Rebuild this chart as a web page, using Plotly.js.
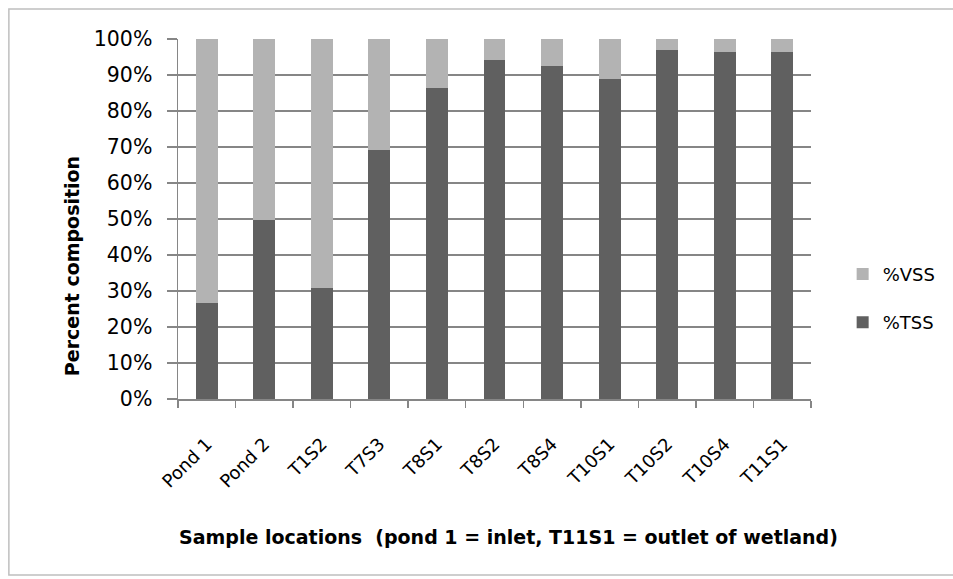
<!DOCTYPE html>
<html>
<head>
<meta charset="utf-8">
<script src="https://cdn.plot.ly/plotly-3.0.1.min.js"></script>
<style>
html,body{margin:0;padding:0;background:#fff;}
#chart{width:953px;height:579px;}
</style>
</head>
<body>
<div id="chart"></div>
<script>
const categories = ["Pond 1","Pond 2","T1S2","T7S3","T8S1","T8S2","T8S4","T10S1","T10S2","T10S4","T11S1"];
const tssPct = [26.8, 49.7, 30.7, 69.1, 86.3, 94.1, 92.4, 89.0, 96.9, 96.3, 96.3];
const vssPct = tssPct.map(v => +(100 - v).toFixed(1));
const yTickVals = [0,10,20,30,40,50,60,70,80,90,100];
const yTickText = ["0%","10%","20%","30%","40%","50%","60%","70%","80%","90%","100%"];
const xTitle = "Sample locations  (pond 1 = inlet, T11S1 = outlet of wetland)";
const yTitle = "Percent composition";

const FONT = "'DejaVu Sans', sans-serif";

const traces = [
  {type:"bar", name:"%TSS", x:categories, y:tssPct, marker:{color:"#606060"}, legendgroup:"b", legendrank:2},
  {type:"bar", name:"%VSS", x:categories, y:vssPct, marker:{color:"#b3b3b3"}, legendgroup:"a", legendrank:1}
];

const layout = {
  width:953, height:579,
  margin:{l:178, r:135, t:39, b:180},
  paper_bgcolor:"#fff", plot_bgcolor:"#fff",
  barmode:"stack", bargap:0.62,
  font:{family:FONT, size:17, color:"#000"},
  xaxis:{
    type:"category",
    tickson:"boundaries",
    ticks:"outside", ticklen:7, tickcolor:"#868686", tickwidth:1.5,
    showline:true, linecolor:"#868686", linewidth:1.5,
    tickangle:-45,
    ticklabelstandoff:26,
    tickfont:{family:FONT, size:18},
    showgrid:false
  },
  yaxis:{
    range:[0,100],
    tickvals:yTickVals, ticktext:yTickText,
    ticks:"outside", ticklen:10, tickcolor:"#868686", tickwidth:1.5,
    showline:true, linecolor:"#868686", linewidth:1.5,
    showgrid:true, gridcolor:"#868686", gridwidth:1.5,
    zeroline:false,
    ticklabelstandoff:10,
    tickfont:{family:FONT, size:20.5}
  },
  legend:{
    x:1.05, y:0.28, xanchor:"left", yanchor:"middle",
    traceorder:"grouped", tracegroupgap:22,
    font:{family:FONT, size:18},
    itemwidth:30
  },
  annotations:[
    {text:"<b>"+yTitle+"</b>", xref:"paper", yref:"paper", x:(71-178)/640, y:(399-266)/360,
     xanchor:"center", yanchor:"middle", textangle:-90, showarrow:false, font:{family:FONT, size:19}},
    {text:"<b>"+xTitle+"</b>", xref:"paper", yref:"paper", x:(512-178)/640, y:(399-537)/360,
     xanchor:"center", yanchor:"middle", showarrow:false, font:{family:FONT, size:19}}
  ],
  shapes:[{
    type:"rect", xref:"paper", yref:"paper",
    x0:(7-178)/640, x1:(1000-178)/640, y0:(399-575)/360, y1:(399-9)/360,
    line:{color:"#bfbfbf", width:1.5}, fillcolor:"rgba(0,0,0,0)", layer:"below"
  }]
};

Plotly.newPlot("chart", traces, layout, {displayModeBar:false, staticPlot:true});
</script>
</body>
</html>
